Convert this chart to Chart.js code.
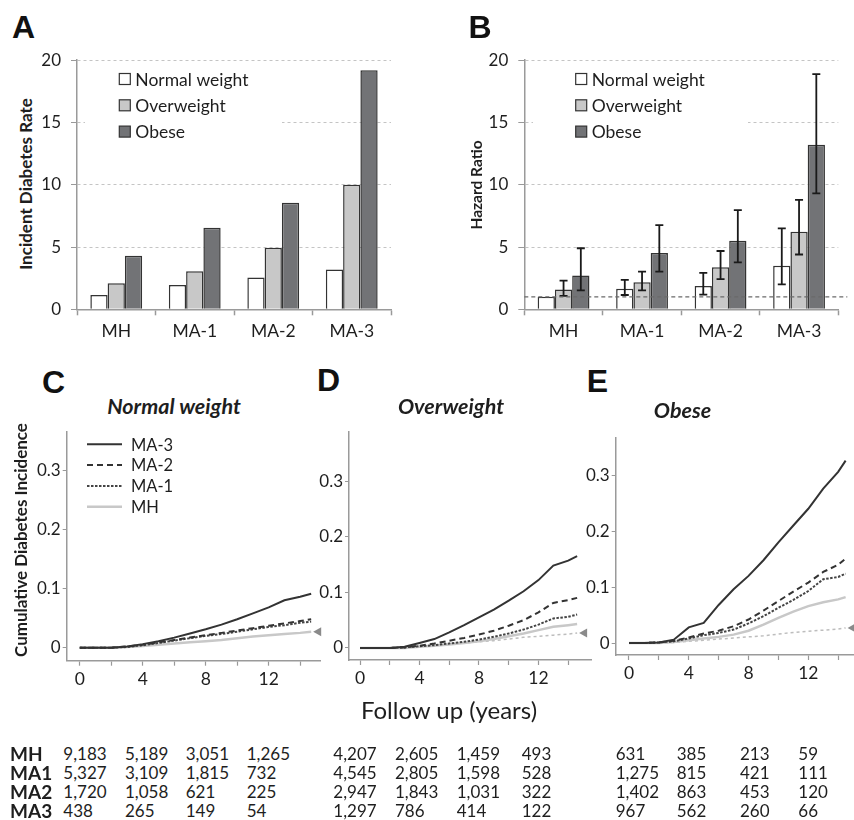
<!DOCTYPE html>
<html>
<head>
<meta charset="utf-8">
<script src="https://cdn.jsdelivr.net/npm/chart.js@4.4.0/dist/chart.umd.min.js"></script>
<style>
body { margin: 0; background: #fff; }
#fig { position: relative; width: 854px; height: 820px; overflow: hidden; font-family: Lato, "Open Sans", sans-serif; color: #1e1e1e; }
canvas { position: absolute; }
.t { position: absolute; white-space: nowrap; line-height: 1; transform: translate(-50%, -50%); }
.r { transform: translate(-50%, -50%) rotate(-90deg); font-weight: bold; }
.letter { font: bold 32px "Liberation Sans", Arial, sans-serif; color: #111; }
.ptitle { font-weight: bold; font-style: italic; font-size: 21.5px; }
.cell { position: absolute; white-space: nowrap; line-height: 1; transform: translateY(-50%); font-size: 17px; }
.rowlab { font-weight: bold; font-size: 19px; }
</style>
</head>
<body>
<div id="fig">
  <canvas id="chartA" width="360" height="310" style="left:40px;top:40px"></canvas>
  <canvas id="chartB" width="384" height="310" style="left:470px;top:40px"></canvas>
  <canvas id="chartC" width="300" height="280" style="left:30px;top:420px"></canvas>
  <canvas id="chartD" width="300" height="280" style="left:300px;top:420px"></canvas>
  <canvas id="chartE" width="284" height="280" style="left:570px;top:420px"></canvas>

  <div class="t letter" style="left:23.5px;top:26.5px">A</div>
  <div class="t letter" style="left:480px;top:26.5px">B</div>
  <div class="t letter" style="left:53.5px;top:382px">C</div>
  <div class="t letter" style="left:328.5px;top:380px">D</div>
  <div class="t letter" style="left:597.5px;top:380.5px">E</div>

  <div class="t r" style="left:25px;top:184px;font-size:17px">Incident Diabetes Rate</div>
  <div class="t r" style="left:477px;top:185px;font-size:15.5px">Hazard Ratio</div>
  <div class="t r" style="left:20px;top:540px;font-size:17px">Cumulative Diabetes Incidence</div>

  <div class="t ptitle" style="left:174px;top:407px">Normal weight</div>
  <div class="t ptitle" style="left:451px;top:407px">Overweight</div>
  <div class="t ptitle" style="left:682.5px;top:411px">Obese</div>

  <div class="t" style="left:449px;top:710px;font-size:24px">Follow up (years)</div>
  <div id="table"></div>
</div>

<script>
// bar panels
const groups = ["MH", "MA-1", "MA-2", "MA-3"];
const bmiLabels = ["Normal weight", "Overweight", "Obese"];
const bmiFills = ["#ffffff", "#c8c8c8", "#727376"];

const rateNormal = [1.15, 1.95, 2.55, 3.2];
const rateOver = [2.1, 3.05, 4.95, 10.0];
const rateObese = [4.3, 6.55, 8.55, 19.2];

const hrNormal = [1.0, 1.65, 1.88, 3.5];
const hrNormalLo = [null, 1.15, 1.18, 2.0];
const hrNormalHi = [null, 2.37, 2.92, 6.5];
const hrOver = [1.58, 2.17, 3.38, 6.22];
const hrOverLo = [1.08, 1.52, 2.42, 4.4];
const hrOverHi = [2.3, 3.02, 4.68, 8.78];
const hrObese = [2.72, 4.52, 5.5, 13.22];
const hrObeseLo = [1.52, 3.02, 3.77, 9.3];
const hrObeseHi = [4.9, 6.76, 7.96, 18.88];
const hrRef = 1;

// cumulative incidence curves
const curveNames = ["MA-3", "MA-2", "MA-1", "MH"];
const yearsC = [0, 1, 2, 3, 4, 5, 6, 7, 8, 9, 10, 11, 12, 13, 14, 14.7];
const normalMA3 = [0, 0, 0, 0.002, 0.006, 0.011, 0.017, 0.024, 0.031, 0.039, 0.048, 0.058, 0.068, 0.08, 0.086, 0.091];
const normalMA2 = [0, 0, 0, 0.002, 0.005, 0.009, 0.013, 0.017, 0.021, 0.025, 0.029, 0.033, 0.037, 0.041, 0.045, 0.048];
const normalMA1 = [0, 0, 0, 0.001, 0.004, 0.008, 0.012, 0.016, 0.02, 0.023, 0.027, 0.031, 0.035, 0.038, 0.042, 0.044];
const normalMH = [0, 0, 0, 0.001, 0.003, 0.005, 0.007, 0.009, 0.011, 0.013, 0.016, 0.019, 0.021, 0.023, 0.025, 0.027];

const yearsD = [0, 1, 2, 3, 4, 5, 6, 7, 8, 9, 10, 11, 12, 13, 14, 14.6];
const overMA3 = [0, 0, 0, 0.002, 0.009, 0.016, 0.028, 0.041, 0.055, 0.069, 0.085, 0.102, 0.122, 0.148, 0.157, 0.165];
const overMA2 = [0, 0, 0, 0.001, 0.004, 0.008, 0.013, 0.018, 0.024, 0.031, 0.04, 0.05, 0.064, 0.081, 0.086, 0.09];
const overMA1 = [0, 0, 0, 0.001, 0.003, 0.005, 0.008, 0.011, 0.015, 0.02, 0.026, 0.033, 0.042, 0.053, 0.056, 0.06];
const overMH = [0, 0, 0, 0, 0.002, 0.004, 0.006, 0.009, 0.012, 0.016, 0.021, 0.026, 0.032, 0.038, 0.041, 0.043];

const yearsE = [0, 1, 2, 3, 4, 5, 6, 7, 8, 9, 10, 11, 12, 13, 14, 14.5];
const obeseMA3 = [0, 0, 0.001, 0.006, 0.028, 0.036, 0.068, 0.096, 0.12, 0.148, 0.18, 0.21, 0.24, 0.276, 0.306, 0.326];
const obeseMA2 = [0, 0, 0.001, 0.004, 0.01, 0.017, 0.022, 0.03, 0.042, 0.058, 0.075, 0.092, 0.108, 0.127, 0.14, 0.151];
const obeseMA1 = [0, 0, 0.001, 0.003, 0.008, 0.014, 0.018, 0.024, 0.035, 0.048, 0.063, 0.077, 0.093, 0.114, 0.118, 0.124];
const obeseMH = [0, 0, 0, 0.002, 0.005, 0.008, 0.011, 0.015, 0.022, 0.033, 0.045, 0.056, 0.066, 0.073, 0.078, 0.082];

// numbers at risk (years 0, 4, 8, 12)
const riskRows = ["MH", "MA1", "MA2", "MA3"];
const riskNormal = [[9183, 5189, 3051, 1265], [5327, 3109, 1815, 732], [1720, 1058, 621, 225], [438, 265, 149, 54]];
const riskOver = [[4207, 2605, 1459, 493], [4545, 2805, 1598, 528], [2947, 1843, 1031, 322], [1297, 786, 414, 122]];
const riskObese = [[631, 385, 213, 59], [1275, 815, 421, 111], [1402, 863, 453, 120], [967, 562, 260, 66]];

Chart.defaults.font.family = "Lato, 'Open Sans', sans-serif";
Chart.defaults.color = "#1e1e1e";

// square legend drawn inside the plot, on a white patch
const boxLegend = {
  id: "boxLegend",
  afterDraw(chart, args, o) {
    const ctx = chart.ctx;
    ctx.save();
    ctx.fillStyle = "#fff";
    ctx.fillRect(o.bgX, o.y - 14, o.bgW, o.gap * 2 + 28);
    chart.data.datasets.forEach((ds, i) => {
      const cy = o.y + i * o.gap;
      ctx.fillStyle = ds.backgroundColor;
      ctx.strokeStyle = "#333";
      ctx.lineWidth = 1.2;
      ctx.fillRect(o.x, cy - 5.5, 11, 11);
      ctx.strokeRect(o.x, cy - 5.5, 11, 11);
      ctx.fillStyle = "#1e1e1e";
      ctx.font = "17.5px Lato";
      ctx.textBaseline = "middle";
      ctx.fillText(ds.label, o.x + 16, cy + 1);
    });
    ctx.restore();
  }
};

const errorBars = {
  id: "errorBars",
  afterDatasetsDraw(chart) {
    const ctx = chart.ctx, y = chart.scales.y;
    chart.data.datasets.forEach((ds, i) => {
      if (!ds.lo) return;
      chart.getDatasetMeta(i).data.forEach((bar, j) => {
        if (ds.lo[j] == null) return;
        const yl = y.getPixelForValue(ds.lo[j]);
        const yh = y.getPixelForValue(ds.hi[j]);
        ctx.save();
        ctx.strokeStyle = "#1a1a1a";
        ctx.lineWidth = 1.8;
        ctx.beginPath();
        ctx.moveTo(bar.x, yl); ctx.lineTo(bar.x, yh);
        ctx.moveTo(bar.x - 4, yl); ctx.lineTo(bar.x + 4, yl);
        ctx.moveTo(bar.x - 4, yh); ctx.lineTo(bar.x + 4, yh);
        ctx.stroke();
        ctx.restore();
      });
    });
  }
};

const refLine = {
  id: "refLine",
  afterDatasetsDraw(chart, args, o) {
    const ctx = chart.ctx, a = chart.chartArea;
    const yy = chart.scales.y.getPixelForValue(o.value);
    ctx.save();
    ctx.strokeStyle = "#6a6a6a";
    ctx.lineWidth = 1.3;
    ctx.setLineDash([4, 3]);
    ctx.beginPath();
    ctx.moveTo(a.left, yy);
    ctx.lineTo(a.right + o.extra, yy);
    ctx.stroke();
    ctx.restore();
  }
};

function barConfig(sets, pad, yWidth, xHeight, legend, extraPlugins, extraOpts) {
  return {
    type: "bar",
    data: {
      labels: groups,
      datasets: sets.map((s, i) => ({
        label: bmiLabels[i],
        data: s.data,
        lo: s.lo,
        hi: s.hi,
        backgroundColor: bmiFills[i],
        borderColor: "#333",
        borderWidth: 1.5,
        barPercentage: 1.0,
        categoryPercentage: 0.66
      }))
    },
    options: {
      responsive: false,
      animation: false,
      layout: { padding: pad },
      plugins: Object.assign({ legend: { display: false }, tooltip: { enabled: false }, boxLegend: legend }, extraOpts),
      scales: {
        x: {
          grid: { drawOnChartArea: false, tickLength: 6, tickColor: "#999", tickWidth: 1.5 },
          border: { color: "#9a9a9a", width: 1.5 },
          ticks: { font: { size: 17.5 }, padding: 6 },
          afterFit: s => { s.height = xHeight; }
        },
        y: {
          min: 0, max: 20,
          ticks: { stepSize: 5, font: { size: 17 }, padding: 10 },
          grid: {
            color: c => (c.tick && c.tick.value === 0) ? "rgba(0,0,0,0)" : "#c4c4c4",
            tickColor: "#999", tickLength: 6, tickBorderDash: [], lineWidth: 1
          },
          border: { color: "#9a9a9a", width: 1.5, dash: [3, 3] },
          afterFit: s => { s.width = yWidth; }
        }
      }
    },
    plugins: [boxLegend].concat(extraPlugins)
  };
}

new Chart(document.getElementById("chartA"), barConfig(
  [{ data: rateNormal }, { data: rateOver }, { data: rateObese }],
  { top: 18.3, right: 9, left: 0, bottom: 0 }, 37, 40.7,
  { x: 79.3, y: 39, gap: 26.3, bgX: 45, bgW: 197 }, [], {}
));

new Chart(document.getElementById("chartB"), barConfig(
  [{ data: hrNormal, lo: hrNormalLo, hi: hrNormalHi },
   { data: hrOver, lo: hrOverLo, hi: hrOverHi },
   { data: hrObese, lo: hrObeseLo, hi: hrObeseHi }],
  { top: 18.3, right: 15.7, left: 0, bottom: 0 }, 54.3, 40.7,
  { x: 105.7, y: 39, gap: 26.3, bgX: 63, bgW: 215 }, [errorBars, refLine],
  { refLine: { value: hrRef, extra: 9 } }
));

// line panels
const lineLegend = {
  id: "lineLegend",
  afterDraw(chart, args, o) {
    if (!o.show) return;
    const ctx = chart.ctx;
    ctx.save();
    chart.data.datasets.forEach((ds, i) => {
      if (ds.ref) return;
      const cy = o.y + i * o.gap;
      ctx.strokeStyle = ds.borderColor;
      ctx.lineWidth = ds.borderWidth;
      ctx.setLineDash(ds.borderDash || []);
      ctx.beginPath();
      ctx.moveTo(o.x, cy);
      ctx.lineTo(o.x + 35, cy);
      ctx.stroke();
      ctx.fillStyle = "#1e1e1e";
      ctx.font = "16.5px Lato";
      ctx.textBaseline = "middle";
      ctx.fillText(ds.label, o.x + 44, cy + 1);
    });
    ctx.restore();
  }
};

const arrowEnd = {
  id: "arrowEnd",
  afterDatasetsDraw(chart) {
    const ctx = chart.ctx;
    chart.data.datasets.forEach((ds, i) => {
      if (!ds.arrow) return;
      const pts = chart.getDatasetMeta(i).data;
      const p = pts[pts.length - 1];
      ctx.save();
      ctx.fillStyle = "#8a8a8a";
      ctx.beginPath();
      ctx.moveTo(p.x + 2, p.y);
      ctx.lineTo(p.x + 10, p.y - 4.5);
      ctx.lineTo(p.x + 10, p.y + 4.5);
      ctx.closePath();
      ctx.fill();
      ctx.restore();
    });
  }
};

const lineStyles = [
  { borderColor: "#333", borderWidth: 2, borderDash: [] },
  { borderColor: "#333", borderWidth: 2, borderDash: [6, 4] },
  { borderColor: "#444", borderWidth: 2, borderDash: [2.5, 1.5] },
  { borderColor: "#c8c8c8", borderWidth: 2.5, borderDash: [] }
];

function pts(xs, ys) { return xs.map((x, i) => ({ x: x, y: ys[i] })); }

function lineConfig(xs, series, refYs, xr, yr, pad, yWidth, xHeight, legend) {
  const sets = series.map((s, i) => Object.assign({
    label: curveNames[i],
    data: pts(xs, s),
    pointRadius: 0,
    tension: 0,
    arrow: !refYs && i === 3
  }, lineStyles[i]));
  if (refYs) {
    sets.push({
      label: "ref", ref: true, arrow: true,
      data: pts(xs, refYs),
      borderColor: "#bdbdbd", borderWidth: 1.5, borderDash: [3, 3],
      pointRadius: 0, tension: 0
    });
  }
  return {
    type: "line",
    data: { datasets: sets },
    options: {
      responsive: false,
      animation: false,
      layout: { padding: pad },
      plugins: { legend: { display: false }, tooltip: { enabled: false }, lineLegend: legend },
      scales: {
        x: {
          type: "linear", min: xr[0], max: xr[1],
          ticks: {
            stepSize: 2, includeBounds: false, autoSkip: false, maxRotation: 0,
            callback: v => (v % 4 === 0 && v <= 12) ? String(v) : "",
            font: { size: 17.5 }, padding: 3
          },
          grid: { drawOnChartArea: false, tickLength: 5, tickColor: "#999", tickWidth: 1.2 },
          border: { color: "#9a9a9a", width: 1.5 },
          afterFit: s => { s.height = xHeight; }
        },
        y: {
          min: yr[0], max: yr[1],
          ticks: {
            stepSize: 0.1, includeBounds: false,
            callback: v => Math.abs(v) < 1e-9 ? "0" : v.toFixed(1),
            font: { size: 17 }, padding: 2
          },
          grid: { drawOnChartArea: false, tickLength: 4, tickColor: "#999", tickWidth: 1 },
          border: { color: "#9a9a9a", width: 1.5 },
          afterFit: s => { s.width = yWidth; }
        }
      }
    },
    plugins: [lineLegend, arrowEnd]
  };
}

new Chart(document.getElementById("chartC"), lineConfig(
  yearsC, [normalMA3, normalMA2, normalMA1, normalMH], null,
  [-0.83, 15.26], [-0.022, 0.364],
  { top: 10, right: 10, left: 0, bottom: 0 }, 36.7, 39.3,
  { show: true, x: 57, y: 24.3, gap: 20.8 }
));

new Chart(document.getElementById("chartD"), lineConfig(
  yearsD, [overMA3, overMA2, overMA1, overMH], normalMH,
  [-0.74, 15.58], [-0.0217, 0.388],
  { top: 7.7, right: 8.3, left: 0, bottom: 0 }, 49, 40,
  { show: false }
));

new Chart(document.getElementById("chartE"), lineConfig(
  yearsE, [obeseMA3, obeseMA2, obeseMA1, obeseMH], normalMH,
  [-0.89, 15.06], [-0.0214, 0.367],
  { top: 17.7, right: 0, left: 0, bottom: 0 }, 45.7, 45,
  { show: false }
));

// numbers-at-risk table
const riskCols = [
  { data: riskNormal, x: [63.3, 125, 185.7, 246.7] },
  { data: riskOver, x: [333.3, 395, 456.7, 521.7] },
  { data: riskObese, x: [615.7, 676.7, 740, 798.3] }
];
const rowY = [753, 772, 791, 810];
const table = document.getElementById("table");
let html = "";
riskRows.forEach((name, r) => {
  html += '<div class="cell rowlab" style="left:10px;top:' + rowY[r] + 'px">' + name + '</div>';
  riskCols.forEach(col => {
    col.data[r].forEach((n, k) => {
      html += '<div class="cell" style="left:' + col.x[k] + 'px;top:' + rowY[r] + 'px">' + n.toLocaleString("en-US") + '</div>';
    });
  });
});
table.innerHTML = html;
</script>
</body>
</html>
